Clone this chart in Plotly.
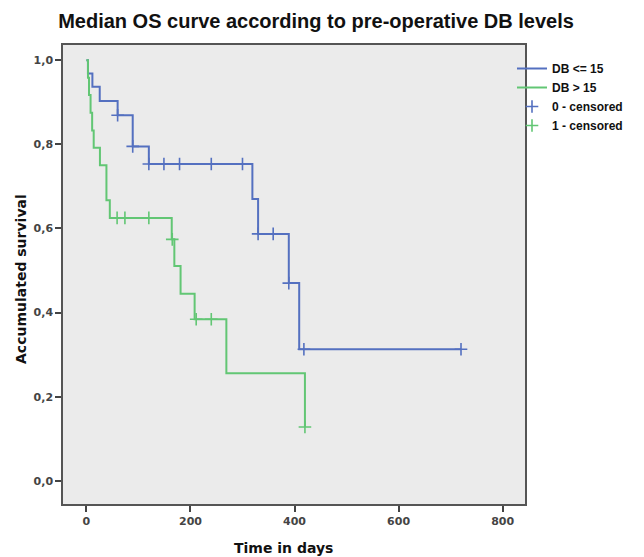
import plotly.graph_objects as go

# ---- data ----
blue_name = "DB <= 15"
green_name = "DB > 15"
blue_cens_name = "0 - censored"
green_cens_name = "1 - censored"

blue_days = [0, 3, 11.5, 25.6, 60, 89, 120, 319, 330, 389, 409, 720]
blue_surv = [1.0, 0.968, 0.937, 0.903, 0.869, 0.795, 0.753, 0.670, 0.587, 0.470, 0.313, 0.313]
blue_cens_days = [60, 89, 120, 149, 179, 240, 300, 330, 359, 389, 418, 720]
blue_cens_surv = [0.869, 0.795, 0.753, 0.753, 0.753, 0.753, 0.753, 0.587, 0.587, 0.470, 0.313, 0.313]

green_days = [0, 3, 5, 8, 11, 14, 26, 38.5, 45, 164, 169, 181, 208, 269, 420]
green_surv = [1.0, 0.958, 0.917, 0.875, 0.833, 0.792, 0.750, 0.667, 0.625, 0.574, 0.511, 0.445, 0.384, 0.256, 0.128]
green_cens_days = [59, 74, 120, 165, 211, 240, 420]
green_cens_surv = [0.625, 0.625, 0.625, 0.574, 0.384, 0.384, 0.128]

x_ticks = [0, 200, 400, 600, 800]
y_ticks = [0.0, 0.2, 0.4, 0.6, 0.8, 1.0]

BLUE = "#5470c0"
GREEN = "#62c674"

fig = go.Figure()
fig.add_trace(go.Scatter(x=blue_days, y=blue_surv, mode="lines", line_shape="hv",
                         line=dict(color=BLUE, width=2), name=blue_name))
fig.add_trace(go.Scatter(x=green_days, y=green_surv, mode="lines", line_shape="hv",
                         line=dict(color=GREEN, width=2), name=green_name))
fig.add_trace(go.Scatter(x=blue_cens_days, y=blue_cens_surv, mode="markers",
                         marker=dict(symbol="cross-thin", size=9, line=dict(color=BLUE, width=1.6)),
                         name=blue_cens_name))
fig.add_trace(go.Scatter(x=green_cens_days, y=green_cens_surv, mode="markers",
                         marker=dict(symbol="cross-thin", size=9, line=dict(color=GREEN, width=1.6)),
                         name=green_cens_name))

# The page body adds an 8px offset, so the figure is 8px smaller than the window
W, H = 636, 549
L, R, T, B = 55, 119, 37, 53
PW, PH = W - L - R, H - T - B

fig.update_layout(
    width=W, height=H,
    margin=dict(l=L, r=R, t=T, b=B, autoexpand=False),
    paper_bgcolor="white", plot_bgcolor="#ebebeb",
    separators=", ",
    title=dict(text="<b>Median OS curve according to pre-operative DB levels</b>",
               x=308 / W, xanchor="center", y=1 - 13 / H, yanchor="middle",
               yref="container", xref="container",
               font=dict(family="Liberation Sans, Arial", size=20, color="#111")),
    showlegend=True,
    legend=dict(x=(504 - L) / PW, xanchor="left", y=1 - (46 - T) / PH, yanchor="top",
                bgcolor="rgba(0,0,0,0)",
                font=dict(family="Liberation Sans, Arial", size=12, color="#111", weight="bold"),
                tracegroupgap=0, itemwidth=30),
)
fig.update_xaxes(range=[-45, 843], tickvals=x_ticks, ticks="outside", ticklen=6, tickwidth=1.5,
                 tickcolor="#444", showgrid=False, zeroline=False, showline=True, linecolor="#555",
                 linewidth=1.5, mirror=True,
                 tickfont=dict(family="DejaVu Sans", size=11, color="#444", weight="bold"))
fig.update_yaxes(range=[-0.055, 1.036], tickvals=y_ticks, tickformat=".1f", ticks="outside", ticklen=6,
                 tickwidth=1.5, tickcolor="#444", showgrid=False, zeroline=False, showline=True,
                 linecolor="#555", linewidth=1.5, mirror=True,
                 tickfont=dict(family="DejaVu Sans", size=11, color="#444", weight="bold"))

fig.add_annotation(text="<b>Time in days</b>", xref="paper", yref="paper",
                   x=(275 - L) / PW, y=-(540 - (H - B)) / PH,
                   xanchor="center", yanchor="middle", showarrow=False,
                   font=dict(family="DejaVu Sans", size=14, color="#111"))
fig.add_annotation(text="<b>Accumulated survival</b>", xref="paper", yref="paper",
                   x=-(L - 13) / PW, y=1 - (271 - T) / PH,
                   xanchor="center", yanchor="middle", textangle=-90, showarrow=False,
                   font=dict(family="DejaVu Sans", size=14, color="#111"))

fig.write_html("out.html")
